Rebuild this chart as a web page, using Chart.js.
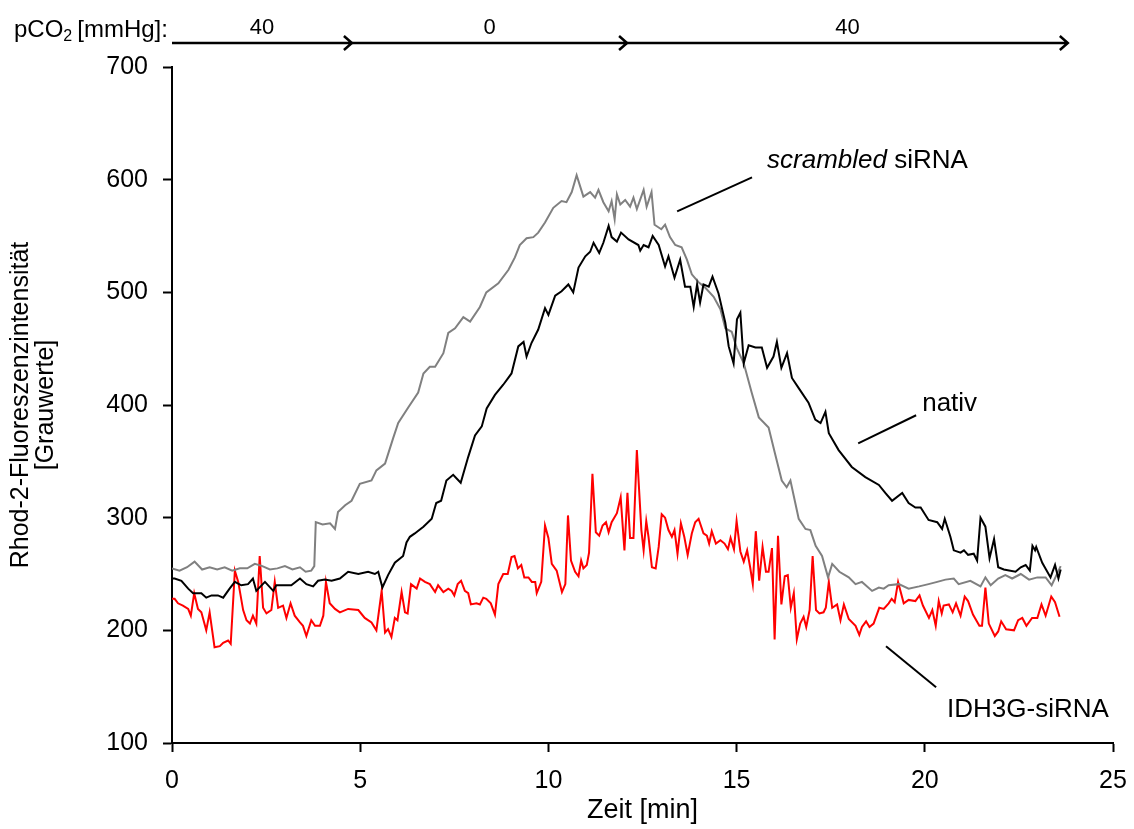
<!DOCTYPE html>
<html lang="de">
<head>
<meta charset="UTF-8">
<title>Rhod-2-Fluoreszenz</title>
<script src="https://cdn.jsdelivr.net/npm/chart.js"></script>
<style>
  html, body { margin: 0; padding: 0; background: #fff; }
</style>
</head>
<body>
<canvas id="rhodChart" width="1134" height="829"></canvas>
<script>
// --- data (time in min, Rhod-2 grey values) ---
const nativTime = [0.0, 0.07, 0.25, 0.43, 0.56, 0.78, 0.91, 1.05, 1.22, 1.36, 1.53, 1.67, 1.84, 2.02, 2.15, 2.24, 2.47, 2.69, 2.77, 2.95, 3.17, 3.4, 3.57, 3.75, 3.88, 4.06, 4.24, 4.46, 4.68, 4.95, 5.21, 5.39, 5.48, 5.59, 5.74, 5.92, 6.14, 6.23, 6.32, 6.45, 6.68, 6.9, 7.02, 7.15, 7.29, 7.47, 7.67, 7.87, 8.05, 8.23, 8.36, 8.58, 8.8, 9.02, 9.2, 9.34, 9.42, 9.55, 9.73, 9.91, 10.0, 10.18, 10.35, 10.53, 10.66, 10.8, 10.98, 11.11, 11.2, 11.35, 11.46, 11.6, 11.68, 11.82, 11.93, 12.13, 12.39, 12.44, 12.53, 12.66, 12.77, 12.93, 13.1, 13.19, 13.35, 13.5, 13.63, 13.77, 13.86, 13.95, 14.03, 14.12, 14.26, 14.36, 14.52, 14.7, 14.79, 14.92, 15.01, 15.1, 15.19, 15.32, 15.5, 15.67, 15.81, 15.98, 16.07, 16.19, 16.34, 16.47, 16.65, 16.91, 17.09, 17.23, 17.36, 17.45, 17.71, 18.06, 18.42, 18.78, 18.95, 19.13, 19.4, 19.57, 19.75, 19.89, 20.1, 20.33, 20.46, 20.53, 20.68, 20.77, 20.95, 21.04, 21.15, 21.3, 21.39, 21.48, 21.61, 21.72, 21.84, 21.95, 22.1, 22.41, 22.55, 22.68, 22.79, 22.86, 22.93, 22.96, 23.12, 23.34, 23.46, 23.55, 23.61];
const nativValues = [246, 246, 244, 237, 233, 233, 229, 231, 231, 229, 237, 243, 240, 241, 246, 235, 243, 235, 240, 240, 240, 246, 241, 239, 244, 245, 244, 246, 252, 250, 252, 250, 252, 238, 249, 260, 266, 278, 283, 286, 292, 299, 313, 315, 333, 338, 331, 354, 373, 381, 397, 409, 418, 428, 452, 456, 443, 455, 467, 486, 480, 497, 501, 507, 500, 522, 532, 536, 544, 535, 544, 559, 549, 545, 553, 547, 542, 537, 542, 540, 550, 542, 523, 532, 513, 529, 505, 505, 487, 507, 491, 507, 505, 514, 499, 473, 452, 437, 476, 482, 437, 453, 451, 451, 433, 443, 456, 433, 446, 424, 415, 402, 387, 384, 394, 375, 360, 345, 336, 329, 322, 315, 322, 313, 309, 309, 298, 296, 290, 299, 283, 271, 269, 271, 267, 268, 262, 300, 292, 264, 281, 256, 254, 252, 256, 258, 253, 275, 271, 274, 260, 247, 258, 246, 254];

const scrambledTime = [0.0, 0.2, 0.4, 0.6, 0.8, 1.0, 1.2, 1.4, 1.6, 1.8, 2.0, 2.2, 2.4, 2.6, 2.8, 3.0, 3.2, 3.4, 3.55, 3.7, 3.78, 3.82, 4.0, 4.2, 4.33, 4.41, 4.6, 4.77, 4.99, 5.3, 5.43, 5.66, 5.88, 6.01, 6.28, 6.54, 6.68, 6.85, 6.99, 7.21, 7.34, 7.52, 7.74, 7.92, 8.18, 8.35, 8.67, 8.94, 9.11, 9.24, 9.42, 9.6, 9.73, 9.91, 10.13, 10.35, 10.48, 10.62, 10.75, 10.93, 11.11, 11.24, 11.33, 11.46, 11.6, 11.68, 11.76, 11.82, 11.91, 12.04, 12.17, 12.26, 12.35, 12.53, 12.61, 12.74, 12.82, 13.0, 13.1, 13.23, 13.37, 13.54, 13.68, 13.81, 13.99, 14.17, 14.39, 14.57, 14.7, 14.87, 15.0, 15.19, 15.4, 15.59, 15.85, 16.02, 16.2, 16.33, 16.43, 16.65, 16.83, 16.96, 17.1, 17.27, 17.43, 17.54, 17.73, 17.98, 18.16, 18.33, 18.6, 18.78, 18.91, 19.04, 19.31, 19.57, 19.85, 20.1, 20.33, 20.55, 20.77, 20.9, 21.21, 21.48, 21.61, 21.75, 21.95, 22.14, 22.32, 22.55, 22.77, 22.99, 23.21, 23.37, 23.47, 23.61];
const scrambledValues = [255, 253, 256, 261, 254, 256, 254, 256, 253, 255, 255, 259, 257, 254, 255, 257, 254, 256, 252, 253, 257, 296, 294, 295, 290, 305, 311, 315, 330, 333, 342, 348, 371, 384, 398, 411, 428, 434, 434, 446, 464, 468, 478, 474, 487, 500, 508, 520, 531, 542, 548, 549, 553, 562, 575, 581, 580, 589, 604, 585, 589, 584, 591, 580, 572, 581, 565, 587, 578, 582, 576, 584, 574, 591, 576, 589, 560, 556, 560, 549, 542, 540, 529, 516, 509, 504, 496, 485, 468, 465, 451, 437, 411, 389, 380, 357, 333, 327, 333, 299, 290, 289, 275, 266, 247, 259, 252, 247, 241, 243, 235, 238, 237, 240, 241, 237, 239, 241, 243, 245, 246, 241, 244, 239, 247, 240, 246, 249, 246, 250, 245, 247, 247, 240, 247, 257];

const idhTime = [0.0, 0.07, 0.16, 0.29, 0.43, 0.5, 0.59, 0.69, 0.78, 0.91, 1.0, 1.13, 1.27, 1.36, 1.49, 1.56, 1.67, 1.76, 1.89, 1.98, 2.07, 2.15, 2.24, 2.33, 2.42, 2.51, 2.64, 2.73, 2.82, 2.95, 3.04, 3.15, 3.26, 3.4, 3.48, 3.57, 3.7, 3.8, 3.93, 4.02, 4.09, 4.19, 4.33, 4.46, 4.68, 4.95, 5.12, 5.3, 5.43, 5.57, 5.66, 5.74, 5.83, 5.92, 5.99, 6.1, 6.19, 6.26, 6.35, 6.5, 6.59, 6.72, 6.85, 6.99, 7.07, 7.21, 7.34, 7.43, 7.5, 7.59, 7.68, 7.78, 7.87, 7.94, 8.09, 8.18, 8.27, 8.35, 8.47, 8.58, 8.67, 8.8, 8.92, 9.02, 9.1, 9.19, 9.28, 9.36, 9.47, 9.56, 9.65, 9.69, 9.81, 9.91, 10.0, 10.09, 10.22, 10.36, 10.45, 10.52, 10.6, 10.71, 10.8, 10.87, 10.93, 11.02, 11.08, 11.17, 11.26, 11.35, 11.44, 11.53, 11.6, 11.68, 11.82, 11.92, 12.02, 12.1, 12.17, 12.26, 12.35, 12.47, 12.53, 12.6, 12.66, 12.75, 12.85, 12.93, 13.01, 13.1, 13.19, 13.28, 13.35, 13.43, 13.52, 13.61, 13.7, 13.81, 13.9, 13.99, 14.12, 14.21, 14.27, 14.34, 14.45, 14.57, 14.68, 14.77, 14.84, 14.93, 15.0, 15.1, 15.19, 15.28, 15.36, 15.43, 15.51, 15.6, 15.69, 15.78, 15.85, 15.94, 16.01, 16.1, 16.19, 16.28, 16.36, 16.44, 16.52, 16.6, 16.69, 16.78, 16.85, 16.94, 17.02, 17.11, 17.2, 17.31, 17.37, 17.45, 17.54, 17.67, 17.76, 17.85, 17.98, 18.16, 18.26, 18.33, 18.44, 18.53, 18.64, 18.79, 18.91, 19.04, 19.12, 19.2, 19.29, 19.44, 19.57, 19.75, 19.86, 19.95, 20.11, 20.2, 20.29, 20.37, 20.45, 20.5, 20.64, 20.74, 20.83, 20.95, 21.06, 21.15, 21.28, 21.45, 21.52, 21.61, 21.7, 21.86, 21.95, 22.03, 22.16, 22.37, 22.48, 22.59, 22.7, 22.85, 22.99, 23.1, 23.21, 23.36, 23.46, 23.58];
const idhValues = [228, 228, 224, 222, 219, 213, 233, 219, 216, 200, 216, 185, 186, 189, 191, 188, 253, 243, 218, 209, 206, 213, 206, 266, 220, 215, 218, 243, 220, 222, 211, 224, 213, 207, 204, 195, 209, 204, 204, 213, 243, 224, 219, 216, 219, 218, 211, 207, 200, 235, 198, 201, 194, 211, 209, 234, 216, 215, 241, 237, 246, 243, 241, 234, 240, 234, 237, 235, 231, 241, 244, 235, 233, 223, 224, 223, 229, 228, 224, 214, 241, 250, 250, 265, 266, 255, 258, 247, 247, 243, 243, 233, 243, 293, 282, 259, 253, 234, 241, 302, 262, 252, 248, 262, 255, 258, 269, 339, 287, 284, 293, 296, 287, 296, 304, 318, 271, 322, 282, 282, 360, 289, 271, 297, 283, 256, 255, 274, 303, 300, 289, 283, 289, 268, 295, 283, 267, 286, 296, 299, 286, 284, 277, 288, 277, 280, 277, 272, 282, 272, 297, 270, 261, 271, 256, 241, 288, 244, 274, 252, 252, 273, 192, 284, 223, 248, 249, 220, 233, 192, 206, 212, 203, 218, 266, 218, 215, 216, 220, 243, 220, 223, 209, 223, 210, 204, 196, 203, 208, 203, 206, 220, 219, 224, 228, 225, 243, 224, 227, 226, 231, 222, 211, 218, 204, 226, 215, 222, 223, 216, 224, 213, 230, 226, 214, 204, 204, 238, 206, 195, 199, 208, 201, 200, 209, 211, 204, 211, 211, 223, 213, 230, 225, 212];

// pCO2 protocol above the plot
const phaseEdges = [0, 4.78, 12.09, 23.8];
const phaseLabels = ['40', '0', '40'];

const FONT = '"Liberation Sans", Arial, sans-serif';

function toPoints(times, values) {
    return times.map((t, i) => ({ x: t, y: values[i] }));
}

// header arrows + series labels with leader lines
const decorations = {
    id: 'decorations',
    afterDraw(chart) {
        const ctx = chart.ctx;
        const xs = chart.scales.x;
        const ys = chart.scales.y;
        const px = v => xs.getPixelForValue(v);
        const py = v => ys.getPixelForValue(v);

        ctx.save();
        ctx.fillStyle = '#000';
        ctx.strokeStyle = '#000';
        ctx.lineWidth = 2.5;
        ctx.textBaseline = 'middle';

        // pCO2 [mmHg]:
        ctx.textAlign = 'left';
        ctx.font = '24px ' + FONT;
        let x = 14;
        ctx.fillText('pCO', x, 30);
        x += ctx.measureText('pCO').width;
        ctx.font = '16px ' + FONT;
        ctx.fillText('2', x, 37);
        x += ctx.measureText('2').width + 5;
        ctx.font = '24px ' + FONT;
        ctx.fillText('[mmHg]:', x, 30);

        const arrowY = 43;
        for (let i = 0; i < phaseLabels.length; i++) {
            const x1 = px(phaseEdges[i]);
            const x2 = px(phaseEdges[i + 1]);
            ctx.beginPath();
            ctx.moveTo(x1, arrowY);
            ctx.lineTo(x2, arrowY);
            ctx.moveTo(x2 - 8, arrowY - 7);
            ctx.lineTo(x2, arrowY);
            ctx.lineTo(x2 - 8, arrowY + 7);
            ctx.stroke();
            ctx.textAlign = 'center';
            ctx.font = '22px ' + FONT;
            ctx.fillText(phaseLabels[i], (x1 + x2) / 2, 28);
        }

        // leader lines
        ctx.lineWidth = 2;
        const leaders = [
            [13.42, 571.9, 15.41, 602.1],
            [18.23, 366, 19.77, 390.9],
            [18.97, 185.8, 20.3, 149.5]
        ];
        leaders.forEach(l => {
            ctx.beginPath();
            ctx.moveTo(px(l[0]), py(l[1]));
            ctx.lineTo(px(l[2]), py(l[3]));
            ctx.stroke();
        });

        // labels
        ctx.textAlign = 'left';
        let lx = px(15.81);
        ctx.font = 'italic 26px ' + FONT;
        ctx.fillText('scrambled', lx, py(617));
        lx += ctx.measureText('scrambled ').width;
        ctx.font = '26px ' + FONT;
        ctx.fillText('siRNA', lx, py(617));
        ctx.fillText('nativ', px(19.93), py(400.6));
        ctx.fillText('IDH3G-siRNA', px(20.59), py(129));
        ctx.restore();
    }
};

const ctx = document.getElementById('rhodChart').getContext('2d');
new Chart(ctx, {
    type: 'line',
    data: {
        datasets: [
            { label: 'nativ', data: toPoints(nativTime, nativValues), borderColor: '#000000' },
            { label: 'scrambled siRNA', data: toPoints(scrambledTime, scrambledValues), borderColor: '#808080' },
            { label: 'IDH3G-siRNA', data: toPoints(idhTime, idhValues), borderColor: '#ff0000' }
        ]
    },
    options: {
        responsive: false,
        animation: false,
        devicePixelRatio: 1,
        layout: { padding: { top: 67, right: 21, left: 0, bottom: 0 } },
        elements: {
            point: { radius: 0 },
            line: { borderWidth: 2, tension: 0 }
        },
        plugins: {
            legend: { display: false },
            tooltip: { enabled: false }
        },
        scales: {
            x: {
                type: 'linear',
                min: 0,
                max: 25,
                afterFit: s => { s.height = 86; s.paddingRight = 0; s.paddingLeft = 0; },
                ticks: { stepSize: 5, color: '#000', padding: 14, font: { family: FONT, size: 25 } },
                grid: { drawOnChartArea: false, tickLength: 9, color: '#000', tickWidth: 2 },
                border: { color: '#000', width: 2 },
                title: {
                    display: true,
                    text: 'Zeit [min]',
                    color: '#000',
                    font: { family: FONT, size: 27, lineHeight: 1 },
                    padding: { top: 0, bottom: 5 }
                }
            },
            y: {
                min: 100,
                max: 700,
                afterFit: s => { s.width = 172; },
                ticks: { stepSize: 100, color: '#000', padding: 15, font: { family: FONT, size: 25 } },
                grid: { drawOnChartArea: false, tickLength: 9, color: '#000', tickWidth: 2 },
                border: { color: '#000', width: 2 },
                title: {
                    display: true,
                    text: ['Rhod-2-Fluoreszenzintensität', '[Grauwerte]'],
                    color: '#000',
                    font: { family: FONT, size: 25, lineHeight: 1 },
                    padding: { top: 9, bottom: 0 }
                }
            }
        }
    },
    plugins: [decorations]
});
</script>
</body>
</html>
